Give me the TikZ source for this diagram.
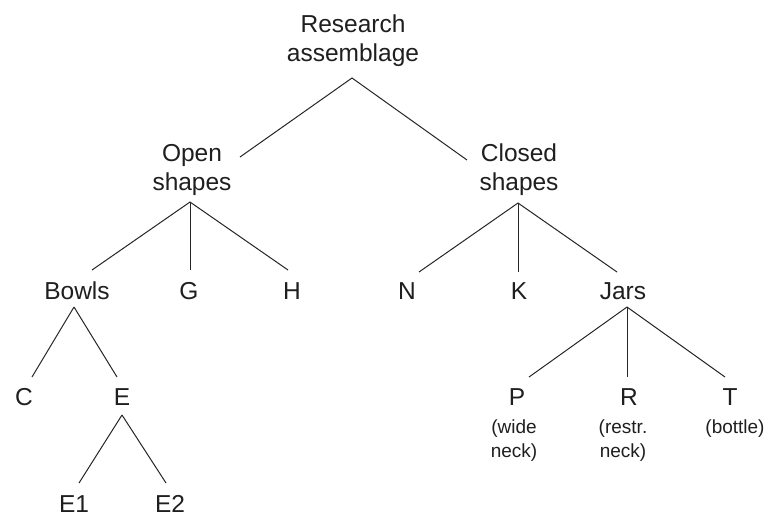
\documentclass[tikz,border=0pt]{standalone}
\usepackage{fontspec}
\setmainfont{Liberation Sans}
\usetikzlibrary{calc}
\begin{document}
\begin{tikzpicture}[x=1pt,y=-1pt,
  lbl/.style={inner sep=0pt, anchor=base, align=center, text=black!88,
    font=\fontsize{24.5}{28.5}\selectfont},
  sub/.style={inner sep=0pt, anchor=base, align=center, text=black!88,
    font=\fontsize{19}{24}\selectfont},
  conn/.style={draw=black!85, line width=1pt}]
\useasboundingbox[fill=white] (0,0) rectangle (767,515);
% nodes (multi-line nodes: base = baseline of last line)
\node[lbl] (ra) at (353,61) {Research\\assemblage};
\node[lbl] (open) at (192,190) {Open\\shapes};
\node[lbl] (closed) at (519,190) {Closed\\shapes};
\node[lbl] (bowls) at (77,299) {Bowls};
\node[lbl] (g) at (189,299) {G};
\node[lbl] (h) at (292,299) {H};
\node[lbl] (n) at (407,299) {N};
\node[lbl] (k) at (519,299) {K};
\node[lbl] (jars) at (623,299) {Jars};
\node[lbl] (c) at (24,405) {C};
\node[lbl] (e) at (122,405) {E};
\node[lbl] (p) at (517,405) {P};
\node[lbl] (r) at (629,405) {R};
\node[lbl] (t) at (730,405) {T};
\node[lbl] (e1) at (74,512) {E1};
\node[lbl] (e2) at (170,512) {E2};
\node[sub] (pw) at (514,457) {(wide\\neck)};
\node[sub] (rr) at (623,457) {(restr.\\neck)};
\node[sub] (tb) at (735,433) {(bottle)};
% connectors
\draw[conn] ($(open.base)+(48,-33)$) -- ($(ra.base)+(-1,17)$) -- ($(closed.base)+(-52,-30)$);
\draw[conn] ($(open.base)+(-2,12)$) -- ($(bowls.base)+(15,-29)$);
\draw[conn] ($(open.base)+(-2,12)$) -- ($(g.base)+(1,-29)$);
\draw[conn] ($(open.base)+(-2,12)$) -- ($(h.base)+(-4,-29)$);
\draw[conn] ($(closed.base)+(-1,13)$) -- ($(n.base)+(12,-27)$);
\draw[conn] ($(closed.base)+(-1,13)$) -- ($(k.base)+(-1,-27)$);
\draw[conn] ($(closed.base)+(-1,13)$) -- ($(jars.base)+(-6,-27)$);
\draw[conn] ($(bowls.base)+(-3,8)$) -- ($(c.base)+(8,-28)$);
\draw[conn] ($(bowls.base)+(-3,8)$) -- ($(e.base)+(-5,-28)$);
\draw[conn] ($(e.base)+(0,10)$) -- ($(e1.base)+(5,-29)$);
\draw[conn] ($(e.base)+(0,10)$) -- ($(e2.base)+(-4,-29)$);
\draw[conn] ($(jars.base)+(4,8)$) -- ($(p.base)+(12,-28)$);
\draw[conn] ($(jars.base)+(4,8)$) -- ($(r.base)+(-2,-28)$);
\draw[conn] ($(jars.base)+(4,8)$) -- ($(t.base)+(-5,-28)$);
\end{tikzpicture}
\end{document}
